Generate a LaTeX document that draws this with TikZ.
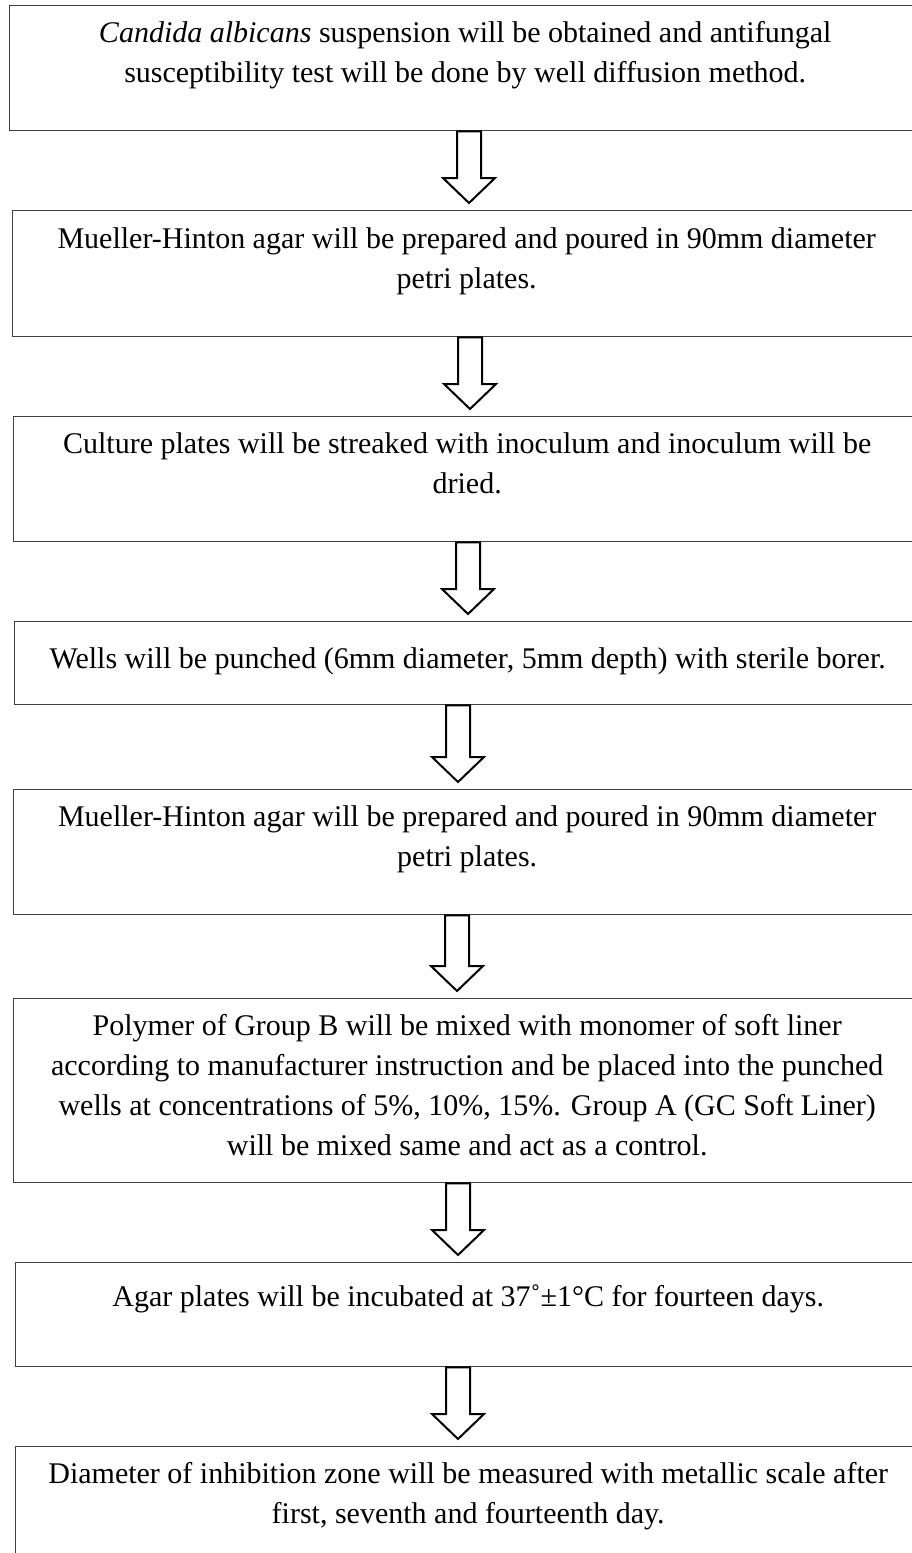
\documentclass[tikz,border=0pt]{standalone}
\usepackage{fontspec}
\setmainfont{Liberation Serif}
\usetikzlibrary{calc}

% text of a step: height, width, first baseline, text
\newcommand{\boxtext}[4]{\parbox[t][#1pt][t]{#2pt}{\centering\rule{0pt}{#3pt}#4}}

\begin{document}
\begin{tikzpicture}[x=1pt, y=-1pt,
    stepbox/.style={draw=black!75, line width=1.4pt, inner sep=0pt, anchor=north west,
      font=\fontsize{30}{40}\selectfont},
    hollowarrow/.style={draw=black, fill=white, line width=2pt, line join=miter}]
    % Page frame
    \useasboundingbox (0,0) rectangle (912,1553);
    \clip (0,0) rectangle (912,1553);

    % Draw steps
    \node[stepbox] (b1) at (9,5) {\boxtext{125}{911}{37}{\textit{Candida albicans} suspension will be obtained and antifungal\\
      susceptibility test will be done by well diffusion method.}};
    \node[stepbox] (b2) at (12,210) {\boxtext{126}{908}{38}{Mueller-Hinton agar will be prepared and poured in 90mm diameter\\
      petri plates.}};
    \node[stepbox] (b3) at (13,416) {\boxtext{125}{907}{37}{Culture plates will be streaked with inoculum and inoculum will be\\
      dried.}};
    \node[stepbox] (b4) at (14,621) {\boxtext{83}{906}{47}{Wells will be punched (6mm diameter, 5mm depth) with sterile borer.}};
    \node[stepbox] (b5) at (13,789) {\boxtext{125}{907}{37}{Mueller-Hinton agar will be prepared and poured in 90mm diameter\\
      petri plates.}};
    \node[stepbox] (b6) at (13,998) {\boxtext{184}{907}{37}{Polymer of Group B will be mixed with monomer of soft liner\\
      according to manufacturer instruction and be placed into the punched\\
      wells at concentrations of 5\%, 10\%, 15\%. Group A (GC Soft Liner)\\
      will be mixed same and act as a control.}};
    \node[stepbox] (b7) at (15,1262) {\boxtext{104}{905}{44}{Agar plates will be incubated at 37˚±1°C for fourteen days.}};
    \node[stepbox] (b8) at (15,1446) {\boxtext{130}{905}{37}{Diameter of inhibition zone will be measured with metallic scale after\\
      first, seventh and fourteenth day.}};

    % Draw hollow arrows between steps
    \foreach \a/\b/\ax in {b1/b2/469, b2/b3/470, b3/b4/468, b4/b5/458, b5/b6/457, b6/b7/458, b7/b8/458}
      \draw[hollowarrow] let \p1=(\a.south), \p2=(\b.north) in
        (\ax pt-12pt,\y1) -- (\ax pt-12pt,\y2+32pt) -- (\ax pt-26pt,\y2+32pt) -- (\ax pt,\y2+7pt)
        -- (\ax pt+26pt,\y2+32pt) -- (\ax pt+12pt,\y2+32pt) -- (\ax pt+12pt,\y1) -- cycle;

  \end{tikzpicture}
\end{document}
